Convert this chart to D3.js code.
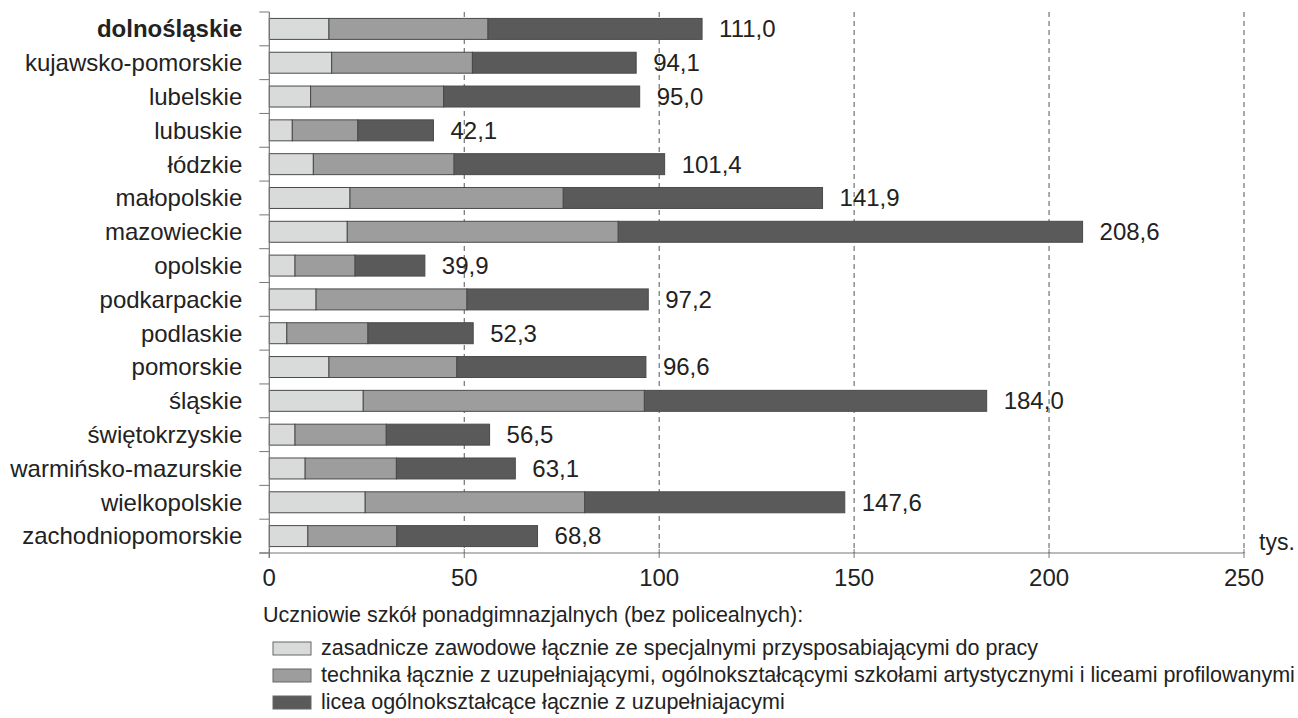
<!DOCTYPE html>
<html>
  <head>
    <title>Uczniowie szkół ponadgimnazjalnych</title>
    <meta charset="utf-8" />
    <style>
      body { margin: 0; background: #fff; }
      svg text { font-family: "Liberation Sans", Arial, sans-serif; fill: #222; }
    </style>
  </head>
  <body>
    <div id="chart"></div>
    <script src="https://d3js.org/d3.v7.min.js"></script>
    <script type="text/javascript">
        const regions = ["dolnośląskie", "kujawsko-pomorskie", "lubelskie", "lubuskie", "łódzkie",
            "małopolskie", "mazowieckie", "opolskie", "podkarpackie", "podlaskie", "pomorskie",
            "śląskie", "świętokrzyskie", "warmińsko-mazurskie", "wielkopolskie", "zachodniopomorskie"];
        const zasadnicze = [15.3, 16.0, 10.6, 5.9, 11.3, 20.7, 20.0, 6.6, 12.0, 4.5, 15.3, 24.1, 6.6, 9.2, 24.6, 9.9];
        const technika = [40.8, 36.1, 34.1, 16.8, 36.1, 54.7, 69.5, 15.4, 38.7, 20.8, 32.8, 72.1, 23.4, 23.4, 56.3, 22.8];
        const licea = [54.9, 42.0, 50.3, 19.4, 54.0, 66.5, 119.1, 17.9, 46.5, 27.0, 48.5, 87.8, 26.5, 30.5, 66.7, 36.1];
        const xTicks = [0, 50, 100, 150, 200, 250];
        const legendTitle = "Uczniowie szkół ponadgimnazjalnych (bez policealnych):";
        const seriesNames = [
            "zasadnicze zawodowe łącznie ze specjalnymi przysposabiającymi do pracy",
            "technika łącznie z uzupełniającymi, ogólnokształcącymi szkołami artystycznymi i liceami profilowanymi",
            "licea ogólnokształcące łącznie z uzupełniajacymi"
        ];
        const colors = ["#d9dbda", "#9c9d9c", "#5a5a5a"];

        const width = 1298;
        const height = 718;
        const margin = ({top: 12, left: 269.3, right: 54, bottom: 165});

        const rows = regions.map((name, i) => ({
            name, values: [zasadnicze[i], technika[i], licea[i]]
        }));

        const x = d3.scaleLinear()
            .domain([0, 250])
            .range([margin.left, width - margin.right]);
        const y = d3.scaleBand()
            .domain(regions)
            .range([margin.top, height - margin.bottom])
            .paddingInner(0.38)
            .paddingOuter(0.19);

        const svg = d3.select("#chart")
            .append("svg")
            .attr("width", width)
            .attr("height", height);

        const y0 = margin.top, y1 = height - margin.bottom;

        // dashed grid
        svg.append("g")
            .selectAll("line")
            .data(xTicks.slice(1))
            .enter().append("line")
            .attr("x1", d => x(d)).attr("x2", d => x(d))
            .attr("y1", y0).attr("y2", y1)
            .attr("stroke", "#555")
            .attr("stroke-width", 1)
            .attr("stroke-dasharray", "5,4");

        // bars
        svg.append("g")
            .selectAll("g")
            .data(rows)
            .enter().append("g")
            .each(function(d) {
                let acc = 0;
                const segs = d.values.map((v, k) => {
                    const s = {x0: acc, x1: acc + v, k};
                    acc += v;
                    return s;
                });
                d3.select(this).selectAll("rect")
                    .data(segs)
                    .enter().append("rect")
                    .attr("x", s => x(s.x0))
                    .attr("width", s => x(s.x1) - x(s.x0))
                    .attr("y", y(d.name))
                    .attr("height", y.bandwidth())
                    .attr("fill", s => colors[s.k])
                    .attr("stroke", "#4a4a4a")
                    .attr("stroke-width", 1);
            });

        // x axis
        svg.append("line")
            .attr("x1", x(0) - 10).attr("x2", x(250))
            .attr("y1", y1).attr("y2", y1)
            .attr("stroke", "#777").attr("stroke-width", 1.2);
        svg.append("g")
            .selectAll("line")
            .data(xTicks)
            .enter().append("line")
            .attr("x1", d => x(d)).attr("x2", d => x(d))
            .attr("y1", y1 - 4).attr("y2", y1 + 5)
            .attr("stroke", "#777");
        svg.append("g")
            .attr("font-size", 24)
            .attr("text-anchor", "middle")
            .selectAll("text")
            .data(xTicks)
            .enter().append("text")
            .attr("x", d => x(d))
            .attr("y", y1 + 33)
            .text(d => d);
        svg.append("text")
            .attr("x", x(250) + 15)
            .attr("y", y1 - 3)
            .attr("font-size", 23)
            .text("tys.");

        // y axis
        svg.append("line")
            .attr("x1", x(0)).attr("x2", x(0))
            .attr("y1", y0).attr("y2", y1 + 5)
            .attr("stroke", "#777").attr("stroke-width", 1.2);
        svg.append("g")
            .selectAll("line")
            .data(d3.range(regions.length + 1))
            .enter().append("line")
            .attr("x1", x(0) - 10).attr("x2", x(0))
            .attr("y1", i => y0 + i * y.step()).attr("y2", i => y0 + i * y.step())
            .attr("stroke", "#777");
        svg.append("g")
            .attr("font-size", 24)
            .attr("text-anchor", "end")
            .selectAll("text")
            .data(regions)
            .enter().append("text")
            .attr("x", x(0) - 27)
            .attr("y", d => y(d) + y.bandwidth() / 2)
            .attr("dy", "0.35em")
            .attr("font-weight", (d, i) => i === 0 ? "bold" : null)
            .text(d => d);

        // totals
        svg.append("g")
            .attr("font-size", 24)
            .selectAll("text")
            .data(rows)
            .enter().append("text")
            .attr("x", d => x(d3.sum(d.values)) + 17)
            .attr("y", d => y(d.name) + y.bandwidth() / 2)
            .attr("dy", "0.35em")
            .text(d => d3.sum(d.values).toFixed(1).replace(".", ","));

        // legend
        const legend = svg.append("g").attr("font-size", 21.5);
        legend.append("text")
            .attr("x", 263).attr("y", 622)
            .text(legendTitle);
        const item = legend.selectAll("g")
            .data(seriesNames)
            .enter().append("g")
            .attr("transform", (d, i) => `translate(0,${655 + i * 27})`);
        item.append("rect")
            .attr("x", 273).attr("y", -13)
            .attr("width", 38).attr("height", 13)
            .attr("fill", (d, i) => colors[i])
            .attr("stroke", "#666");
        item.append("text")
            .attr("x", 321).attr("y", 0)
            .text(d => d);
    </script>
  </body>
</html>
